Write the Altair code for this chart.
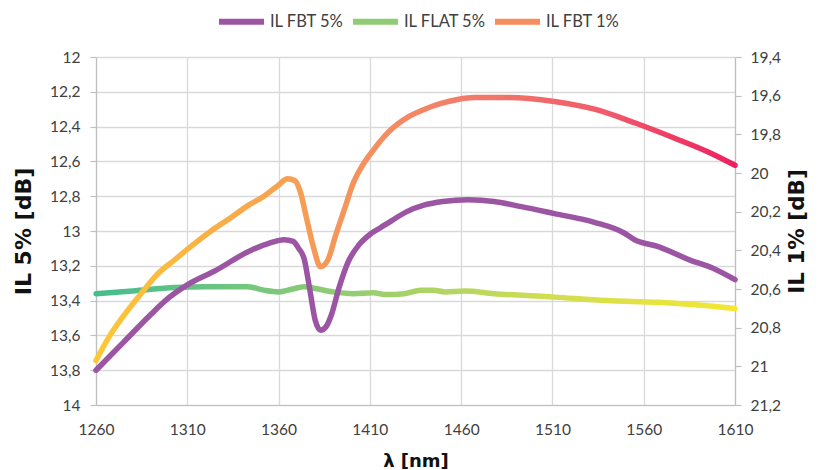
import altair as alt
import pandas as pd

# ---------------- data ----------------
series_names = ["IL FBT 5%", "IL FLAT 5%", "IL FBT 1%"]

wl_fbt5 = [1260, 1275, 1290, 1298, 1310, 1325, 1345, 1355, 1363, 1368, 1371, 1374, 1377,
           1380, 1383, 1386, 1389, 1393, 1398, 1404, 1410, 1416, 1422, 1430, 1440, 1450,
           1464, 1478, 1493, 1511, 1533, 1549, 1555, 1568, 1586, 1597, 1610]
il_fbt5 = [13.80, 13.64, 13.48, 13.40, 13.31, 13.23, 13.11, 13.07, 13.05, 13.06, 13.10, 13.16, 13.33,
           13.51, 13.57, 13.55, 13.48, 13.33, 13.18, 13.08, 13.02, 12.98, 12.94, 12.89, 12.85, 12.83,
           12.82, 12.83, 12.86, 12.90, 12.95, 13.01, 13.05, 13.09, 13.17, 13.21, 13.28]

wl_flat5 = [1260, 1280, 1303, 1320, 1343, 1352, 1360, 1367, 1374, 1380, 1390, 1401, 1412,
            1418, 1429, 1438, 1445, 1451, 1462, 1478, 1511, 1540, 1568, 1595, 1610]
il_flat5 = [13.36, 13.345, 13.325, 13.32, 13.32, 13.34, 13.35, 13.335, 13.32, 13.33, 13.35, 13.36, 13.355,
            13.365, 13.36, 13.34, 13.34, 13.35, 13.345, 13.36, 13.38, 13.40, 13.41, 13.43, 13.445]

wl_fbt1 = [1260, 1267, 1275, 1285, 1294, 1303, 1312, 1323, 1334, 1343, 1352, 1359, 1365,
           1369, 1372, 1375, 1379, 1383, 1387, 1391, 1396, 1401, 1406, 1412, 1420, 1431,
           1440, 1449, 1458, 1467, 1486, 1511, 1533, 1555, 1577, 1595, 1610]
il_fbt1 = [20.97, 20.85, 20.74, 20.62, 20.52, 20.45, 20.38, 20.30, 20.23, 20.17, 20.12, 20.07, 20.03,
           20.04, 20.10, 20.22, 20.38, 20.485, 20.45, 20.33, 20.19, 20.05, 19.96, 19.88, 19.79, 19.71,
           19.67, 19.64, 19.62, 19.61, 19.61, 19.63, 19.67, 19.74, 19.82, 19.89, 19.96]

x_ticks = [1260, 1310, 1360, 1410, 1460, 1510, 1560, 1610]
left_ticks = [12, 12.2, 12.4, 12.6, 12.8, 13, 13.2, 13.4, 13.6, 13.8, 14]
right_ticks = [19.4, 19.6, 19.8, 20, 20.2, 20.4, 20.6, 20.8, 21, 21.2]

df_p = pd.DataFrame({"wl": wl_fbt5, "il": il_fbt5, "series": series_names[0]})
df_g = pd.DataFrame({"wl": wl_flat5, "il": il_flat5, "series": series_names[1]})
df_o = pd.DataFrame({"wl": wl_fbt1, "il": il_fbt1, "series": series_names[2]})

# ---------------- styles ----------------
PURPLE = "#9b55a3"
legend_colors = [PURPLE, "#8fcc74", "#f58d5e"]

grad_green = alt.Gradient(
    gradient="linear", x1=0, x2=1, y1=0, y2=0,
    stops=[alt.GradientStop(offset=0, color="#45bd8f"),
           alt.GradientStop(offset=0.4, color="#95cd72"),
           alt.GradientStop(offset=0.7, color="#cfdd52"),
           alt.GradientStop(offset=1, color="#f5e732")])
grad_orange = alt.Gradient(
    gradient="linear", x1=0, x2=1, y1=0, y2=0,
    stops=[alt.GradientStop(offset=0, color="#fcc836"),
           alt.GradientStop(offset=0.3, color="#f7a052"),
           alt.GradientStop(offset=0.55, color="#f28069"),
           alt.GradientStop(offset=0.8, color="#f05a6a"),
           alt.GradientStop(offset=1, color="#ee2060")])

LABEL_FONT = "Lato"
TITLE_FONT = "DejaVu Sans"
label_expr = "replace(format(datum.value, '.1~f'), '.', ',')"

x_enc = alt.X(
    "wl:Q",
    scale=alt.Scale(domain=[1260, 1610], nice=False, zero=False),
    axis=alt.Axis(values=x_ticks, title="λ [nm]", grid=True, ticks=False, format="d",
                  labelPadding=17, titlePadding=15, titleFontSize=18,
                  labelFlush=False),
)

y_left = alt.Y(
    "il:Q",
    scale=alt.Scale(domain=[12, 14], reverse=True, nice=False, zero=False),
    axis=alt.Axis(values=left_ticks, orient="left", title="IL 5% [dB]", grid=True,
                  labelExpr=label_expr, tickSize=6, labelPadding=10, titlePadding=14,
                  titleFontSize=22),
)

y_right = alt.Y(
    "il:Q",
    scale=alt.Scale(domain=[19.4, 21.2], reverse=True, nice=False, zero=False),
    axis=alt.Axis(values=right_ticks, orient="right", title="IL 1% [dB]", grid=False,
                  labelExpr=label_expr, tickSize=6, labelPadding=9, titlePadding=6,
                  titleFontSize=21.5, titleAngle=270, titleBaseline="top"),
)

green = alt.Chart(df_g).mark_line(strokeWidth=5.5, interpolate="monotone",
                                  stroke=grad_green, strokeCap="round").encode(x=x_enc, y=y_left)

purple = alt.Chart(df_p).mark_line(strokeWidth=5.5, interpolate="monotone",
                                   strokeCap="round").encode(
    x=x_enc, y=y_left,
    color=alt.Color("series:N",
                    scale=alt.Scale(domain=series_names, range=legend_colors),
                    legend=alt.Legend(orient="none", legendX=120, legendY=-61,
                                      direction="horizontal", title=None,
                                      symbolType="stroke", symbolStrokeWidth=6,
                                      symbolSize=2025, labelFont=LABEL_FONT,
                                      labelFontSize=16.5, labelColor="#404040",
                                      labelOffset=3, columnPadding=-3, padding=0)),
)

orange = alt.Chart(df_o).mark_line(strokeWidth=5.5, interpolate="monotone",
                                   stroke=grad_orange, strokeCap="round").encode(x=x_enc, y=y_right)

left = alt.layer(green, purple)

chart = alt.layer(left, orange).resolve_scale(y="independent").properties(
    width=639, height=348,
    padding={"left": 88, "top": 49, "right": 76, "bottom": 65},
    autosize=alt.AutoSizeParams(type="none"),
    background="white",
).configure_view(stroke=None).configure_axis(
    labelFont=LABEL_FONT, labelFontSize=15.5, labelColor="#404040",
    titleFont=TITLE_FONT, titleFontWeight="bold", titleColor="#111111",
    domainColor="#bfbfbf", domainWidth=1.2, tickColor="#bfbfbf", tickWidth=1.2,
    gridColor="#d9d9d9", gridWidth=1.3,
)

chart.save("out.html", embed_options={"renderer": "svg", "actions": False})
